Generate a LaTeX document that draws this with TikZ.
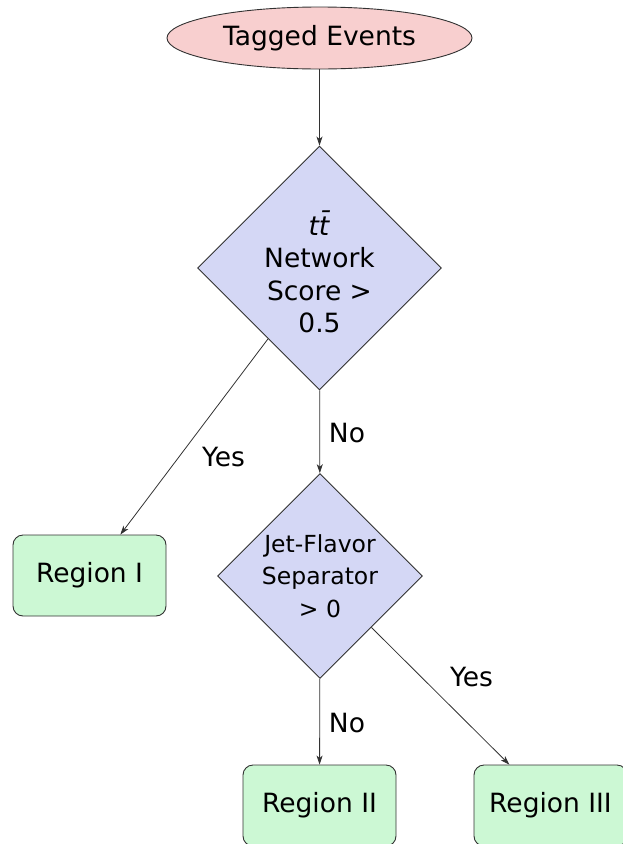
\documentclass[tikz,border=0pt]{standalone}
\usepackage{fontspec}
\setmainfont{DejaVu Sans}
\usetikzlibrary{arrows.meta,shapes.geometric}

\definecolor{eventpink}{RGB}{248,207,207}
\definecolor{testblue}{RGB}{212,215,245}
\definecolor{regiongreen}{RGB}{204,248,212}
\definecolor{edgegray}{RGB}{50,50,50}

\begin{document}
\begin{tikzpicture}[x=1pt,y=-1pt,
    every node/.style={font=\fontsize{26.5}{32.5}\selectfont},
    event/.style={ellipse, draw=edgegray, fill=eventpink, line width=0.9pt,
      minimum width=305pt, minimum height=62pt, inner sep=0pt},
    test/.style={diamond, draw=edgegray, fill=testblue, line width=0.9pt,
      align=center, inner sep=0pt, shape aspect=1},
    regionbox/.style={rectangle, rounded corners=10pt, draw=edgegray, fill=regiongreen,
      line width=0.9pt, minimum width=153pt, minimum height=81pt},
    answer/.style={inner sep=0pt},
    flow/.style={-{Stealth[length=9pt,width=6pt,inset=2.5pt]}, line width=0.8pt, draw=edgegray}]
    \useasboundingbox (0,0) rectangle (623,844);
    \node (tag) [event] at (319.5,38) {Tagged Events};
    \node (ttbar) [test, minimum size=244pt] at (319.5,268) {\rule{0pt}{32pt}\textit{t\=t}\\Network\\Score >\\0.5};
    \node (jfs) [test, minimum size=205pt, font=\fontsize{23.5}{32.5}\selectfont] at (320,576) {Jet-Flavor\\Separator\\> 0};
    \node (reg1) [regionbox] at (89.5,575.5) {Region I};
    \node (reg2) [regionbox] at (319.5,805.5) {Region II};
    \node (reg3) [regionbox] at (550.5,805.5) {Region III};
    \node (yes1) [answer] at (223.5,457) {Yes};
    \node (no1) [answer] at (347,433) {No};
    \node (yes2) [answer] at (471.5,677) {Yes};
    \node (no2) [answer] at (347,723) {No};
    \draw[flow] (tag) -- (ttbar);
    \draw[flow] (ttbar.234) -- (reg1);
    \draw[flow] (ttbar) -- (jfs);
    \draw[flow] (jfs.south east) -- (reg3);
    \draw[flow] (jfs) -- (reg2);
  \end{tikzpicture}
\end{document}
